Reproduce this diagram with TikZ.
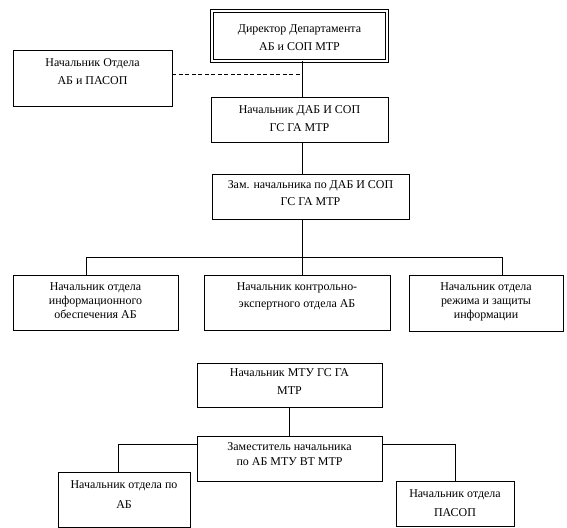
\documentclass[tikz,border=0pt]{standalone}
\usepackage{fontspec}
\setmainfont{Liberation Serif}
\usepackage{tikz}
\usetikzlibrary{positioning}
\tikzstyle{unit}=[draw, rectangle, line width=0.9bp, inner sep=0pt]
\tikzstyle{head}=[unit, double, line width=0.9bp, double distance=1.6bp]
\tikzset{caption/.style={anchor=north, align=center, inner sep=0pt, yshift=-8.5bp, font=\fontsize{12}{#1}\selectfont}, caption/.default=18bp}
\tikzstyle{link}=[line width=0.9bp]
\tikzstyle{aside}=[link, dash pattern=on 4bp off 2.5bp]

\begin{document}
\begin{tikzpicture}[x=1bp, y=-1bp]
      \useasboundingbox (0,0) rectangle (567,528);

      \coordinate (spine) at (302,0);
      \coordinate (dash) at (302,74);
      \coordinate (busL) at (86,257);
      \coordinate (busR) at (502,257);
      \coordinate (forkL) at (118,444);
      \coordinate (forkR) at (455,444);

      \node[head, minimum width=175bp, minimum height=50bp, label={[caption, yshift=-5bp]north:{Директор Департамента\\АБ и СОП МТР}}] (director) at (299.5,36) {};
      \node[unit, minimum width=159bp, minimum height=56bp, label={[caption]north:{Начальник Отдела\\АБ и ПАСОП}}] (odel) at (92.5,78) {};
      \node[unit, minimum width=177bp, minimum height=45bp, label={[caption]north:{Начальник ДАБ И СОП\\ГС ГА МТР}}] (dab) at (299.5,119.5) {};
      \node[unit, minimum width=197bp, minimum height=45bp, label={[caption=17bp, yshift=2bp]north:{Зам. начальника по ДАБ И СОП\\ГС ГА МТР}}] (zam) at (310.5,196.5) {};
      \node[unit, minimum width=165bp, minimum height=55bp, label={[caption=14bp, yshift=1bp]north:{Начальник отдела\\информационного\\обеспечения АБ}}] (info) at (95.5,302.5) {};
      \node[unit, minimum width=186bp, minimum height=55bp, label={[caption=17bp, yshift=1bp]north:{Начальник контрольно-\\экспертного отдела АБ}}] (kontrol) at (297,302.5) {};
      \node[unit, minimum width=154bp, minimum height=56bp, label={[caption=14bp, yshift=1bp]north:{Начальник отдела\\режима и защиты\\информации}}] (rezhim) at (486,303) {};

      \node[unit, minimum width=185bp, minimum height=44bp, label={[caption, yshift=3bp]north:{Начальник МТУ ГС ГА\\МТР}}] (mtu) at (289.5,385) {};
      \node[unit, minimum width=185bp, minimum height=45bp, label={[caption=15bp, yshift=2bp]north:{Заместитель начальника\\по АБ МТУ ВТ МТР}}] (zam2) at (289.5,458.5) {};
      \node[unit, minimum width=132bp, minimum height=55bp, label={[caption=20bp]north:{Начальник отдела по\\АБ}}] (otdab) at (124,499.5) {};
      \node[unit, minimum width=118bp, minimum height=45bp, label={[caption=19bp]north:{Начальник отдела\\ПАСОП}}] (pasop) at (455,503.5) {};

      \draw[link] (director.south -| spine) -- (dab.north -| spine);
      \draw[aside] (odel.east |- dash) -- (dash);
      \draw[link] (dab.south -| spine) -- (zam.north -| spine);
      \draw[link] (zam.south -| spine) -- (kontrol.north -| spine);
      \draw[link] (info.north -| busL) -- (busL) -- (busR) -- (rezhim.north -| busR);

      \draw[link] (mtu.south) -- (zam2.north);
      \draw[link] (zam2.west |- forkL) -- (forkL) -- (otdab.north -| forkL);
      \draw[link] (zam2.east |- forkR) -- (forkR) -- (pasop.north);

    \end{tikzpicture}
\end{document}
